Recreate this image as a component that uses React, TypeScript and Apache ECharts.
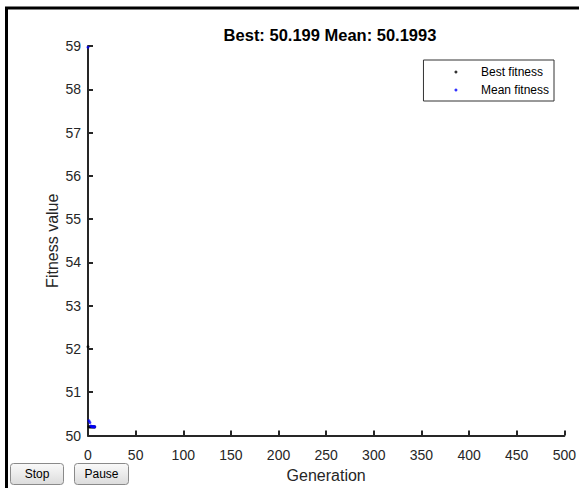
import React, { useEffect, useRef } from "react";
import * as echarts from "echarts";

const generations = [0, 1, 2, 3, 4, 5, 6, 7];
const bestFitness = [52.05, 50.2, 50.199, 50.199, 50.199, 50.199, 50.199, 50.199];
const meanFitness = [58.97, 50.34, 50.3, 50.22, 50.21, 50.2, 50.2, 50.1993];
const titleText = "Best: 50.199 Mean: 50.1993";
const buttonLabels = ["Stop", "Pause"];

const FONT = "'Liberation Sans', Arial, Helvetica, sans-serif";

export default function App() {
  const ref = useRef<HTMLDivElement>(null);
  useEffect(() => {
    if (!ref.current) return;
    const chart = echarts.init(ref.current, undefined, { renderer: "svg" });
    const buttonGraphics: any[] = [];
    const btnPos = [
      { x: 10, w: 53 },
      { x: 74, w: 54 },
    ];
    buttonLabels.forEach((label, i) => {
      buttonGraphics.push({
        type: "rect",
        shape: { x: btnPos[i].x + 0.5, y: 463.5, width: btnPos[i].w, height: 21, r: 3 },
        style: {
          fill: new echarts.graphic.LinearGradient(0, 0, 0, 1, [
            { offset: 0, color: "#fafafa" },
            { offset: 1, color: "#dcdcdc" },
          ]),
          stroke: "#8a8a8a",
          lineWidth: 1,
        },
        z: 10,
      });
      buttonGraphics.push({
        type: "text",
        x: btnPos[i].x + btnPos[i].w / 2 + 0.5,
        y: 474,
        style: {
          text: label,
          font: `12px ${FONT}`,
          fill: "#000",
          align: "center",
          verticalAlign: "middle",
        },
        z: 11,
      });
    });
    chart.setOption({
      animation: false,
      backgroundColor: "#ffffff",
      title: {
        text: titleText,
        left: 325,
        textAlign: "center",
        top: 21,
        textStyle: { fontFamily: FONT, fontSize: 16.5, fontWeight: "bold", color: "#000" },
      },
      legend: {
        orient: "vertical",
        right: 25,
        top: 60,
        itemWidth: 40,
        itemHeight: 3,
        itemGap: 6,
        padding: [6, 5, 5, 31],
        borderColor: "#333",
        borderWidth: 1,
        backgroundColor: "#fff",
        textStyle: { fontFamily: FONT, fontSize: 12, color: "#000", lineHeight: 12 },
        data: [
          { name: "Best fitness", icon: "circle" },
          { name: "Mean fitness", icon: "circle" },
        ],
      },
      grid: { left: 88, right: 11, top: 46, bottom: 51, containLabel: false },
      xAxis: {
        type: "value",
        min: 0,
        max: 500,
        interval: 50,
        name: "Generation",
        nameLocation: "middle",
        nameGap: 31.5,
        nameMoveOverlap: false,
        nameTextStyle: { fontFamily: FONT, fontSize: 16, color: "#262626" },
        axisLine: { show: true, lineStyle: { color: "#262626", width: 2 } },
        axisTick: { show: true, inside: true, length: 5, lineStyle: { color: "#262626", width: 2 } },
        axisLabel: { fontFamily: FONT, fontSize: 14, color: "#262626", margin: 12, showMaxLabel: true },
        splitLine: { show: false },
      },
      yAxis: {
        type: "value",
        min: 50,
        max: 59,
        interval: 1,
        name: "Fitness value",
        nameLocation: "middle",
        nameGap: 28,
        nameMoveOverlap: false,
        nameTextStyle: { fontFamily: FONT, fontSize: 16, color: "#262626" },
        axisLine: { show: true, lineStyle: { color: "#262626", width: 2 } },
        axisTick: { show: true, inside: true, length: 5, lineStyle: { color: "#262626", width: 2 } },
        axisLabel: { fontFamily: FONT, fontSize: 14, color: "#262626", margin: 7 },
        splitLine: { show: false },
      },
      series: [
        {
          name: "Best fitness",
          type: "scatter",
          symbol: "circle",
          symbolSize: 3,
          itemStyle: { color: "#000000" },
          data: generations.map((g, i) => [g, bestFitness[i]]),
        },
        {
          name: "Mean fitness",
          type: "scatter",
          symbol: "circle",
          symbolSize: 3,
          itemStyle: { color: "#0000ff" },
          data: generations.map((g, i) => [g, meanFitness[i]]),
        },
      ],
      graphic: [
        {
          type: "line",
          shape: { x1: 5, y1: 8, x2: 579, y2: 8 },
          style: { stroke: "#000", lineWidth: 3 },
          z: 20,
        },
        {
          type: "line",
          shape: { x1: 6.5, y1: 7, x2: 6.5, y2: 488 },
          style: { stroke: "#000", lineWidth: 3 },
          z: 20,
        },
        ...buttonGraphics,
      ],
    });
    return () => chart.dispose();
  }, []);
  return (
    <div
      ref={ref}
      style={{ position: "fixed", left: 0, top: 0, width: 579, height: 488 }}
    />
  );
}
